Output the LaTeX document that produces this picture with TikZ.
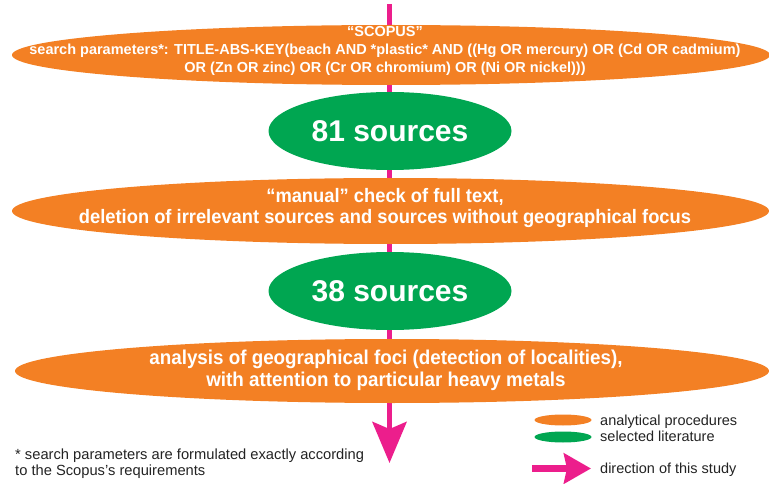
\documentclass[tikz,border=0pt]{standalone}
\usepackage{fontspec}
\setmainfont{Liberation Sans}
\newfontfamily\narrowfont{Liberation Sans}[FakeStretch=0.94]
\usetikzlibrary{shapes.geometric}
\usetikzlibrary{arrows.meta}
\usetikzlibrary{backgrounds}
\usetikzlibrary{positioning}

\definecolor{procorange}{RGB}{243,128,36}
\definecolor{litgreen}{RGB}{0,166,81}
\definecolor{flowpink}{RGB}{236,30,140}
\definecolor{notegray}{RGB}{35,35,35}

\begin{document}
\begin{tikzpicture}[x=1pt,y=-1pt,
  proc/.style={ellipse,fill=procorange,inner sep=0pt},
  proctext/.style={text=white,inner sep=0pt,align=center,font=\narrowfont\bfseries\fontsize{19.5}{21}\selectfont},
  lit/.style={ellipse,fill=litgreen,text=white,inner sep=0pt,minimum width=243pt,minimum height=78pt,font=\bfseries\fontsize{30}{32}\selectfont},
  flow/.style={draw=flowpink,line width=5.5pt},
  legtext/.style={anchor=base west,inner sep=0pt,text=notegray,font=\fontsize{14.5}{16}\selectfont}
]
\useasboundingbox (0,0) rectangle (769,484);

% steps of the study
\node[proc,minimum width=758pt,minimum height=60pt] (scopus) at (391,55) {};
\node[proctext,font=\bfseries\fontsize{14.5}{18}\selectfont] (scopus-txt) at (385,51)
  {“SCOPUS”\\search parameters*: TITLE-ABS-KEY(beach AND *plastic* AND ((Hg OR mercury) OR (Cd OR cadmium)\\OR (Zn OR zinc) OR (Cr OR chromium) OR (Ni OR nickel)))};
\node[lit] (first) at (390,131) {81 sources};
\node[proc,minimum width=757pt,minimum height=66pt] (check) at (390.5,211) {};
\node[proctext] (check-txt) at (385,208)
  {“manual” check of full text,\\deletion of irrelevant sources and sources without geographical focus};
\node[lit] (second) at (390,291) {38 sources};
\node[proc,minimum width=754pt,minimum height=64pt] (foci) at (392,371) {};
\node[proctext,font=\narrowfont\bfseries\fontsize{20}{22}\selectfont] (foci-txt) at (386,370)
  {analysis of geographical foci (detection of localities),\\with attention to particular heavy metals};

\coordinate (top) at (389.5,4);
\coordinate (end) at (389.5,463);
\begin{scope}[on background layer]
  \draw[flow,-{Stealth[length=41pt,width=34pt,inset=7pt]}] (top) -- (end);
\end{scope}

% legend
\node[ellipse,fill=procorange,minimum width=57pt,minimum height=11pt,inner sep=0pt] (legproc) at (563,420) {};
\node[ellipse,fill=litgreen,minimum width=57pt,minimum height=11pt,inner sep=0pt] (leglit) at (563,437) {};
\node[legtext] (legproc-txt) at (600,425) {analytical procedures};
\node[legtext] (leglit-txt) at (600,441) {selected literature};
\coordinate (arrstart) at (532,468.5);
\coordinate (arrend) at (591,468.5);
\draw[draw=flowpink,line width=7pt,-{Stealth[length=27pt,width=30pt,inset=3pt]}] (arrstart) -- (arrend);
\node[legtext] (legflow) at (600,473) {direction of this study};

% footnote
\node[legtext,font=\fontsize{14.7}{16}\selectfont] (note1) at (15,459) {* search parameters are formulated exactly according};
\node[legtext,font=\fontsize{14.7}{16}\selectfont] (note2) at (15,475) {to the Scopus’s requirements};
\end{tikzpicture}
\end{document}
